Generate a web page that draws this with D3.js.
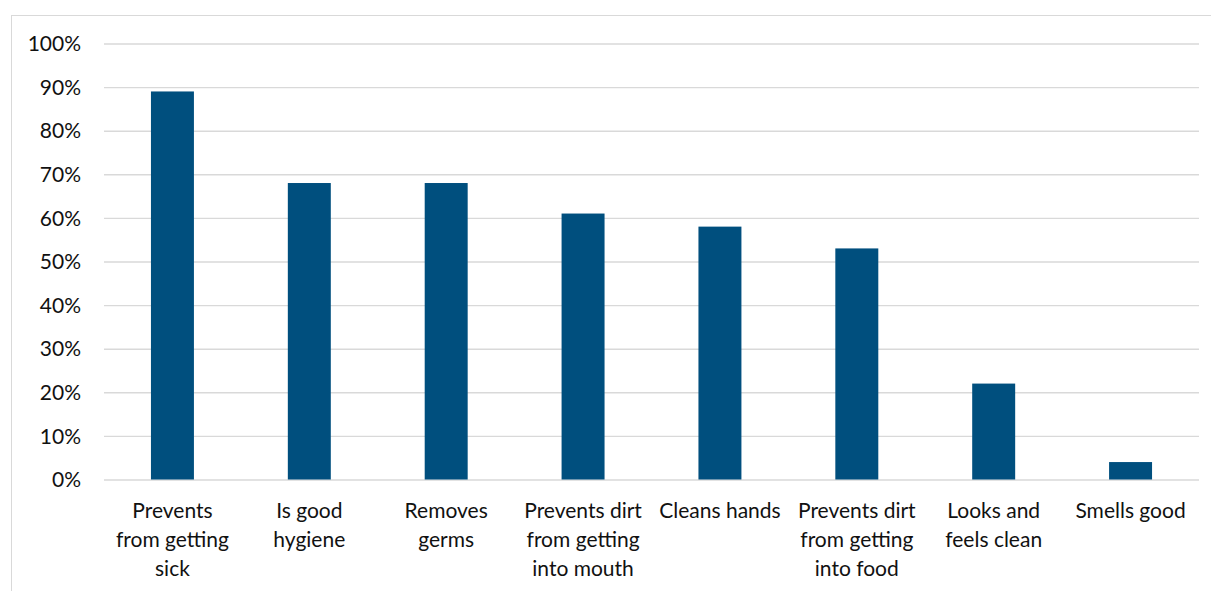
<!DOCTYPE html>
<html>
<head>
<meta charset="utf-8">
<script src="https://cdn.jsdelivr.net/npm/d3@7"></script>
<style>
  html, body { margin: 0; padding: 0; background: #fff; }
  svg { display: block; }
  text { font-family: Lato, "Open Sans", sans-serif; fill: #111; }
</style>
</head>
<body>
<svg id="chart" width="1211" height="591"></svg>
<script>
// Reasons for handwashing (share of respondents)
const categories = [
  "Prevents\nfrom getting\nsick",
  "Is good\nhygiene",
  "Removes\ngerms",
  "Prevents dirt\nfrom getting\ninto mouth",
  "Cleans hands",
  "Prevents dirt\nfrom getting\ninto food",
  "Looks and\nfeels clean",
  "Smells good"
];
const values = [0.89, 0.68, 0.68, 0.61, 0.58, 0.53, 0.22, 0.04];
const yTicks = [0, 0.1, 0.2, 0.3, 0.4, 0.5, 0.6, 0.7, 0.8, 0.9, 1.0];

const svg = d3.select("#chart");
const plot = { left: 104, right: 1199, top: 43.5, bottom: 479.5 };
const fontSize = 21;

// outer chart frame
svg.append("rect")
  .attr("x", 11.5).attr("y", 15.5)
  .attr("width", 1220).attr("height", 600)
  .attr("fill", "none").attr("stroke", "#d9d9d9").attr("stroke-width", 1);

const x = d3.scaleBand()
  .domain(categories)
  .range([plot.left, plot.right])
  .paddingInner(0.686)
  .paddingOuter(0.343);

const y = d3.scaleLinear().domain([0, 1]).range([plot.bottom, plot.top]);

// gridlines + y labels
const yAxis = d3.axisLeft(y)
  .tickValues(yTicks)
  .tickFormat(d3.format(".0%"))
  .tickSize(-(plot.right - plot.left))
  .tickPadding(23);

const gy = svg.append("g")
  .attr("transform", `translate(${plot.left},0)`)
  .call(yAxis);
gy.select(".domain").remove();
gy.selectAll(".tick line").attr("stroke", "#d9d9d9").attr("stroke-width", 1.4);
gy.selectAll(".tick text")
  .attr("font-size", fontSize)
  .attr("dy", "0.34em")
  .style("font-family", "Lato, 'Open Sans', sans-serif")
  .attr("fill", "#111");

// bars
svg.append("g").selectAll("rect")
  .data(values)
  .join("rect")
  .attr("x", (d, i) => x(categories[i]))
  .attr("width", x.bandwidth())
  .attr("y", d => y(d))
  .attr("height", d => y(0) - y(d))
  .attr("fill", "#004f7e");

// category labels
const gx = svg.append("g")
  .attr("transform", `translate(0,${plot.bottom})`)
  .call(d3.axisBottom(x).tickSize(0).tickFormat(""));
gx.select(".domain").remove();

gx.selectAll(".tick").each(function(d) {
  const lines = d.split("\n");
  const t = d3.select(this).append("text")
    .attr("text-anchor", "middle")
    .attr("font-size", fontSize)
    .attr("fill", "#111");
  lines.forEach((ln, k) => {
    t.append("tspan")
      .attr("x", 0)
      .attr("y", 38.5 + k * 29)
      .text(ln);
  });
});
</script>
</body>
</html>
